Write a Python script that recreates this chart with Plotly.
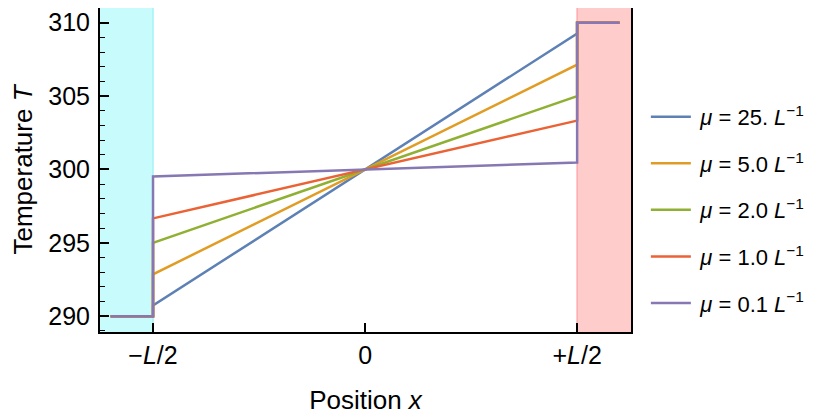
import plotly.graph_objects as go

# contact-resistance temperature profiles
mu_labels = ["25.", "5.0", "2.0", "1.0", "0.1"]
colors = ["#5E81B5", "#E19C24", "#8FB032", "#EB6235", "#8778B3"]
# temperature just inside the slab at -L/2 and +L/2
T_left = [290.74, 292.86, 295.0, 296.67, 299.52]
T_right = [309.26, 307.14, 305.0, 303.33, 300.48]

# reservoir temperatures and the x extent of the flat reservoir parts
T_cold = 290
T_hot = 310
x_res = [-0.6, -0.5, 0.5, 0.6]

font = "Liberation Sans, Arial, sans-serif"

fig = go.Figure()

for i in range(len(mu_labels)):
    xs = [x_res[0], x_res[1], x_res[1], x_res[2], x_res[2], x_res[3]]
    ys = [T_cold, T_cold, T_left[i], T_right[i], T_hot, T_hot]
    fig.add_trace(go.Scatter(
        x=xs, y=ys,
        mode="lines",
        line=dict(color=colors[i], width=2.5),
        # thin space in front: a bit more room between legend line and text
        name="\u2009<i>μ</i> = " + mu_labels[i] + " <i>L</i><sup>−1</sup>",
        legendgroup=str(i),
    ))

# reservoir shading
fig.add_shape(type="rect", xref="x", yref="paper", x0=-0.7, x1=-0.5, y0=0, y1=1,
              fillcolor="#C8FBFB", line_width=0, layer="below")
fig.add_shape(type="line", xref="x", yref="paper", x0=-0.5, x1=-0.5, y0=0, y1=1,
              line=dict(color="#A6F3F6", width=1.5), layer="below")
fig.add_shape(type="rect", xref="x", yref="paper", x0=0.5, x1=0.7, y0=0, y1=1,
              fillcolor="#FFCCCC", line_width=0, layer="below")
fig.add_shape(type="line", xref="x", yref="paper", x0=0.5, x1=0.5, y0=0, y1=1,
              line=dict(color="#FFA9AE", width=1.5), layer="below")

# the page body keeps an 8px margin, so the figure is 8px smaller than the window
fig.update_layout(
    width=809, height=409,
    margin=dict(l=92, r=186, t=0, b=85, autoexpand=False),
    plot_bgcolor="white",
    paper_bgcolor="white",
    font=dict(family=font, size=25, color="black"),
    legend=dict(
        x=1.028, y=0.377, xanchor="left", yanchor="middle",
        bgcolor="rgba(0,0,0,0)",
        font=dict(family=font, size=22, color="black"),
        tracegroupgap=15,
        itemwidth=40,
    ),
)

fig.update_xaxes(
    range=[-0.625, 0.627],
    tickvals=[-0.5, 0, 0.5],
    ticktext=["−<i>L</i>/2", "0", "+<i>L</i>/2"],
    tickfont=dict(family=font, size=25, color="black"),
    ticks="inside", ticklen=9, tickwidth=1.5, tickcolor="black",
    showline=True, linecolor="black", linewidth=2, mirror=True,
    showgrid=False, zeroline=False, automargin=False,
    title=dict(text="Position <i>x</i>", standoff=23,
               font=dict(family=font, size=26, color="black")),
)
fig.update_yaxes(
    range=[288.93, 311.0],
    tickvals=[290, 295, 300, 305, 310],
    tickfont=dict(family=font, size=25, color="black"),
    ticklabelstandoff=3,
    ticks="inside", ticklen=9, tickwidth=1.5, tickcolor="black",
    minor=dict(dtick=1, ticks="inside", ticklen=5, tickwidth=1, tickcolor="black"),
    showline=True, linecolor="black", linewidth=2, mirror=True,
    showgrid=False, zeroline=False, automargin=False,
    title=dict(text="Temperature <i>T</i>", standoff=21,
               font=dict(family=font, size=26, color="black")),
)

fig.write_html("out.html")
